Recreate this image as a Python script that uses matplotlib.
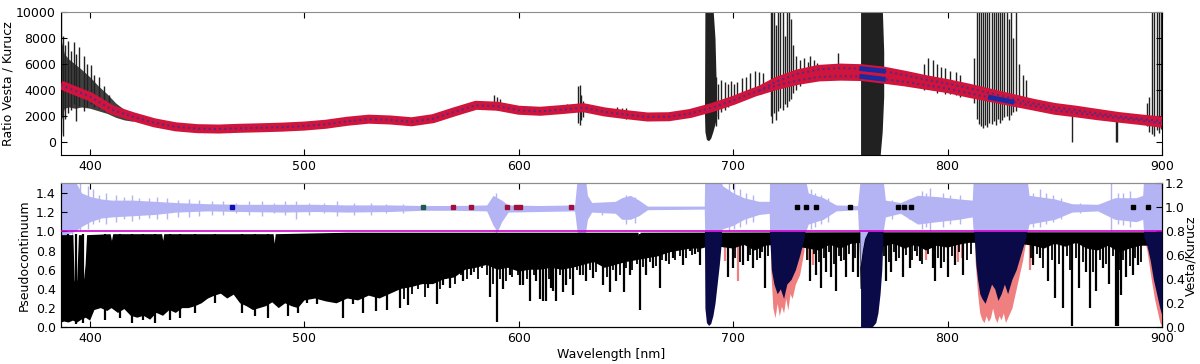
import numpy as np
import matplotlib
matplotlib.use('Agg')
import matplotlib.pyplot as plt

plt.rcParams['font.size'] = 9
plt.rcParams['xtick.direction'] = 'in'
plt.rcParams['ytick.direction'] = 'in'

# ---------------- top panel data (ratio Vesta / Kurucz) ----------------
fit_wl = [386.3, 390, 400, 410, 420, 430, 440, 450, 460, 470, 480, 490, 500, 510, 520,
          530, 540, 550, 560, 570, 580, 590, 600, 610, 620, 630, 640, 650, 660, 670,
          680, 690, 700, 710, 720, 730, 740, 750, 760, 770, 780, 790, 800, 810, 820,
          830, 840, 850, 860, 870, 880, 890, 900]
fit_lo = [4400, 4150, 3500, 2500, 1950, 1480, 1170, 1030, 1000, 1060, 1100, 1150, 1230, 1370, 1600,
          1760, 1700, 1560, 1800, 2330, 2830, 2760, 2450, 2370, 2500, 2650, 2320, 2110, 1930, 1950,
          2200, 2650, 3200, 3850, 4350, 4750, 5020, 5080, 5050, 4850, 4640, 4380, 4120, 3760, 3430,
          3100, 2780, 2450, 2250, 2030, 1840, 1660, 1450]
fit2_wl = [712, 720, 730, 740, 750, 760, 770, 780, 790, 800, 810, 820, 830, 840, 850,
           860, 870, 880, 890, 900]
fit2_hi = [3950, 4650, 5250, 5600, 5700, 5650, 5470, 5150, 4800, 4500, 4150, 3760, 3370, 2980, 2660,
           2450, 2200, 1960, 1780, 1620]

# noisy ratio near the blue end
noise_wl = [386.3, 388, 390, 393, 396, 400, 404, 408, 412, 416, 420]
noise_lo = [1500, 2600, 2700, 2600, 2700, 2600, 2400, 2200, 1900, 1700, 1600]
noise_hi = [8000, 6800, 6400, 6000, 5600, 5000, 4300, 3700, 3000, 2500, 2200]

# single spikes of the ratio (wavelength, low end, high end)
spk_wl = [386.5, 387.3, 388.5, 389.5, 391, 392.5, 393.6, 395, 397, 398.5, 400.5, 402, 404, 406.5, 409,
          588.5, 589.6, 591, 593, 622.5, 627.5, 628.3, 629, 630, 646, 648, 650,
          692, 693, 694.5, 696, 697.5, 699, 700.5, 702, 704, 706, 708, 710, 712, 714,
          717.5, 718.3, 719.2, 720, 721, 722, 723, 724, 725, 726, 727, 728, 729.5, 731, 733, 735,
          736, 737.5, 739, 748.7,
          789, 791, 793, 795, 797, 799, 801, 804, 806,
          812.5, 813.5, 814.5, 815.5, 816.5, 817.5, 818.5, 819.5, 820.5, 821.5, 822.5, 823.5,
          824.5, 825.5, 826.5, 827.5, 828.5, 829.5, 830.5, 832, 833.5, 835, 836.5,
          858.1, 878.4, 879.0,
          893, 894, 895.5, 896.5, 897.5, 898.5, 899.5]
spk_lo = [700, 500, 1800, 2200, 2500, 2900, 1600, 2800, 2400, 2700, 2900, 2700, 2600, 2400, 2200,
          2600, 2500, 2600, 2500, 2300, 1500, 1300, 1700, 1900, 2000, 1900, 1800,
          1200, 1800, 2300, 2500, 2700, 2900, 3100, 3400, 3300, 3400, 3500, 3600, 3800, 4000,
          2000, 1500, 2200, 1700, 2400, 2600, 2500, 2900, 2700, 3200, 3300, 3800, 4000, 4300, 4600, 4800,
          4900, 5000, 5100, 5300,
          4000, 4100, 4000, 3800, 3900, 3700, 3700, 3600, 3500,
          3000, 1800, 1400, 1200, 1100, 1300, 1150, 1500, 1400, 1600, 1300, 1800,
          1500, 1700, 1900, 2000, 1700, 2100, 2300, 2400, 2700, 2900, 3000,
          0, 0, 0,
          1200, 800, 600, 500, 900, 700, 1000]
spk_hi = [10000, 8200, 7500, 7800, 7000, 7700, 6800, 7300, 6600, 6000, 5900, 5200, 5000, 4300, 3600,
          3600, 3500, 3300, 3000, 2900, 4300, 4400, 3600, 3200, 2700, 2600, 2600,
          5000, 4500, 4800, 4600, 4500, 4700, 4500, 4600, 4900, 5000, 5300, 5500, 5400, 5300,
          10000, 10000, 10000, 9000, 10000, 10000, 10000, 8200, 10000, 10000, 9500, 7500, 6600, 6300, 6500, 6200,
          6600, 6300, 6100, 6900,
          6000, 6500, 6300, 6000, 5800, 5700, 5500, 5400, 5200,
          6500, 10000, 10000, 10000, 10000, 10000, 10000, 10000, 10000, 10000, 10000, 10000,
          10000, 10000, 10000, 10000, 9500, 10000, 8000, 10000, 6000, 5200, 4800,
          2400, 1900, 1900,
          3000, 3500, 10000, 10000, 10000, 10000, 10000]

# saturated telluric bands in the ratio
tel1_wl = [686.6, 686.8, 687.5, 688.5, 689.5, 690.5, 691.5, 692.3]
tel1_lo = [2200, 800, 200, 100, 300, 800, 1400, 2000]
tel1_hi = [2200, 10500, 10500, 10500, 10500, 10500, 8000, 3000]
tel2_wl = [759.4, 759.6, 768.5, 769.5, 770.2]
tel2_lo = [-1100, -1100, -1100, 800, 3500]
tel2_hi = [10500, 10500, 10500, 10500, 7000]

# ---------------- bottom panel data ----------------
# solar pseudocontinuum spectrum: upper and lower edge of the dense line forest
top_wl = [386.3, 392.2, 392.8, 393.4, 394.0, 394.8, 396.2, 396.7, 397.2, 397.9, 398.6,
          409.6, 410.2, 410.8, 433.6, 434.1, 434.6, 485.6, 486.1, 486.6, 520,
          655.8, 656.3, 656.8, 759.3, 759.4, 760.5, 761.5, 763.0, 900]
top_hi = [0.96, 0.96, 0.5, 0.38, 0.5, 0.96, 0.96, 0.55, 0.5, 0.65, 0.96,
          0.97, 0.9, 0.97, 0.97, 0.9, 0.97, 0.97, 0.87, 0.97, 0.985,
          0.985, 0.91, 0.985, 0.99, 0.62, 0.8, 0.92, 0.99, 0.99]
blk_wl = [386.3, 388, 390, 392, 394, 396, 398, 400, 402, 405, 408, 410, 413, 416, 419, 422,
          425, 428, 431, 434, 437, 440, 443, 446, 449, 452, 455, 458, 461, 464, 467, 470,
          473, 476, 479, 482, 485, 488, 491, 494, 497, 500, 505, 510, 515, 520, 525, 530,
          535, 540, 545, 550, 555, 560, 565, 570, 575, 580, 585, 590, 595, 600, 605, 610,
          615, 620, 625, 630, 635, 640, 645, 650, 655, 660, 665, 670, 675, 680, 685, 690,
          700, 705, 710, 715, 720, 730, 740, 745, 750, 755, 759, 759.4, 763, 764, 770, 775,
          780, 785, 790, 795, 800, 805, 810, 820, 830, 840, 845, 850, 855, 860, 865, 870,
          875, 880, 885, 890, 900]
blk_lo = [0.05, 0.06, 0.05, 0.07, 0.05, 0.08, 0.1, 0.07, 0.18, 0.2, 0.17, 0.2, 0.15, 0.19, 0.12, 0.1,
          0.12, 0.08, 0.15, 0.12, 0.18, 0.15, 0.2, 0.2, 0.22, 0.25, 0.3, 0.33, 0.35, 0.3, 0.34, 0.25,
          0.22, 0.18, 0.2, 0.22, 0.26, 0.2, 0.25, 0.22, 0.2, 0.28, 0.3, 0.27, 0.25, 0.3, 0.28, 0.33,
          0.3, 0.35, 0.4, 0.42, 0.45, 0.45, 0.5, 0.52, 0.6, 0.62, 0.65, 0.6, 0.62, 0.58, 0.6, 0.6,
          0.62, 0.6, 0.62, 0.65, 0.68, 0.62, 0.65, 0.68, 0.7, 0.72, 0.74, 0.78, 0.8, 0.82, 0.82, 0.85,
          0.82, 0.86, 0.8, 0.85, 0.86, 0.84, 0.8, 0.86, 0.82, 0.87, 0.88, 0.4, 0.4, 0.88, 0.84, 0.87,
          0.82, 0.86, 0.8, 0.85, 0.83, 0.86, 0.88, 0.88, 0.88, 0.85, 0.82, 0.87, 0.84, 0.88, 0.82, 0.8,
          0.85, 0.78, 0.82, 0.85, 0.85]

# individual deep absorption lines (wavelength, line core)
line_wl = [389.9, 393.4, 396.8, 407.0, 414.0, 419.4, 424.9, 430.3, 437.3, 442.0, 449.0, 458.3,
           470.7, 477.0, 483.2, 492.5, 497.1, 501.0, 505.7, 518.1, 522.8, 527.4, 533.6, 538.3,
           544.5, 548.5, 557.7, 561.6, 564.7, 567.8, 571.7, 574.0, 577.9, 586.5, 589.9, 592.7,
           595.8, 598.1, 600.5, 602.0, 605.1, 608.2, 609.8, 611.3, 612.9, 615.2, 616.0, 617.5,
           620.6, 622.2, 625.3, 628.4, 631.5, 634.6, 639.3, 642.4, 645.5, 648.9, 651.7, 656.5,
           659.5, 662.6, 665.7, 668.8, 671.9, 676.6, 679.7, 682.0, 684.4,
           697.6, 699.9, 704.6, 706.9, 709.2, 712.3, 714.7, 735.6, 738.8, 741.1, 743.4, 745.7,
           748.1, 750.4, 752.7, 755.8, 758.2, 771.4, 773.7, 776.0, 779.2, 782.3, 784.6, 786.9,
           793.1, 793.9, 797.0, 800.1, 803.3, 807.1, 839.8, 842.9, 846.8, 849.9, 853.8, 858.1,
           861.5, 864.6, 866.2, 869.3, 872.4, 875.5, 878.6, 879.4, 881.0, 883.3, 886.4, 888.7]
line_lo = [0.06, 0.03, 0.05, 0.08, 0.1, 0.05, 0.08, 0.05, 0.08, 0.1, 0.15, 0.25,
           0.15, 0.12, 0.1, 0.12, 0.15, 0.25, 0.24, 0.1, 0.24, 0.15, 0.17, 0.18,
           0.2, 0.23, 0.41, 0.24, 0.44, 0.41, 0.58, 0.48, 0.55, 0.32, 0.06, 0.4,
           0.55, 0.6, 0.44, 0.44, 0.27, 0.48, 0.3, 0.27, 0.27, 0.41, 0.38, 0.27,
           0.37, 0.44, 0.34, 0.55, 0.48, 0.51, 0.44, 0.37, 0.48, 0.37, 0.55, 0.18,
           0.55, 0.62, 0.41, 0.69, 0.72, 0.65, 0.79, 0.76, 0.65,
           0.52, 0.62, 0.65, 0.69, 0.62, 0.72, 0.41, 0.48, 0.55, 0.41, 0.58, 0.52,
           0.38, 0.69, 0.52, 0.58, 0.52, 0.48, 0.58, 0.69, 0.52, 0.62, 0.79, 0.69,
           0.62, 0.48, 0.62, 0.52, 0.65, 0.55, 0.65, 0.72, 0.48, 0.31, 0.2, 0.01,
           0.41, 0.58, 0.2, 0.38, 0.62, 0.45, 0.01, 0.01, 0.34, 0.52, 0.55, 0.65]

# weaker lines that make the comb between the deep ones
weak_wl = [546.5, 550, 553, 556, 559.5, 563, 566, 570, 573, 576, 579, 581, 583, 585, 588, 591,
           594, 597, 599.5, 604, 607, 614, 619, 624, 627, 630, 633, 636, 638, 641, 644, 647,
           650, 653, 655, 658, 661, 664, 667, 670, 673, 675, 678, 681, 683.5,
           701, 703, 708, 711, 713.5, 716, 734.5, 737.5, 740, 742.3, 744.5, 747, 749.3, 751.5,
           754, 757, 770.5, 772.5, 775, 777.5, 780.5, 783.5, 785.8, 788, 791, 795.5, 798.5,
           802, 805.5, 809, 811, 838.8, 841.5, 844.5, 848.5, 852, 855.5, 857, 860, 863, 868,
           871, 874, 877, 880, 882, 885, 887.5, 890]
weak_lo = [0.3, 0.35, 0.4, 0.32, 0.45, 0.4, 0.5, 0.45, 0.55, 0.5, 0.58, 0.5, 0.62, 0.55, 0.45, 0.5,
           0.48, 0.52, 0.55, 0.5, 0.55, 0.5, 0.55, 0.5, 0.6, 0.55, 0.6, 0.58, 0.65, 0.52, 0.6, 0.55,
           0.62, 0.6, 0.66, 0.63, 0.68, 0.64, 0.7, 0.66, 0.7, 0.74, 0.72, 0.75, 0.78,
           0.72, 0.68, 0.75, 0.7, 0.78, 0.74, 0.7, 0.76, 0.68, 0.72, 0.78, 0.66, 0.74, 0.7,
           0.76, 0.72, 0.74, 0.68, 0.78, 0.72, 0.75, 0.7, 0.74, 0.66, 0.76, 0.72, 0.68,
           0.74, 0.78, 0.7, 0.76, 0.72, 0.76, 0.62, 0.7, 0.66, 0.74, 0.6, 0.72, 0.68, 0.58,
           0.7, 0.66, 0.74, 0.6, 0.7, 0.64, 0.72, 0.68]

# telluric-affected spectrum (salmon) and telluric bands (navy)
sal_bands = [
    ([717.5, 718.5, 719.5, 720.5, 721.5, 722.5, 723.5, 724.5, 725.5, 726.5, 727.5, 729, 731, 733],
     [0.6, 0.2, 0.1, 0.25, 0.12, 0.22, 0.15, 0.3, 0.18, 0.35, 0.3, 0.45, 0.55, 0.8]),
    ([812.8, 814, 815, 816, 817, 818, 819, 820, 821, 822, 823, 824, 825, 826, 827, 828, 829,
      830, 831, 833, 835, 836.5],
     [0.7, 0.35, 0.15, 0.08, 0.05, 0.12, 0.06, 0.1, 0.2, 0.1, 0.05, 0.12, 0.08, 0.15, 0.05, 0.1,
      0.15, 0.2, 0.3, 0.5, 0.7, 0.9]),
    ([891.5, 893, 895, 896.5, 898, 899, 900],
     [0.95, 0.8, 0.5, 0.3, 0.15, 0.05, 0.02]),
]
sal_line_wl = [696.0, 702.2, 735.5, 737.0, 790.0, 803.3, 805.0, 806.5, 838.5, 840.0]
sal_line_lo = [0.69, 0.48, 0.7, 0.65, 0.7, 0.72, 0.68, 0.72, 0.6, 0.68]

navy_bands = [
    ([686.6, 686.8, 687.5, 688.5, 689.5, 690.5, 691.5, 692.5, 693.5, 694.5],
     [0.9, 0.2, 0.05, 0.02, 0.04, 0.12, 0.25, 0.45, 0.65, 0.9],
     [1.0, 1.0, 1.0, 1.0, 1.0, 1.0, 1.0, 1.0, 1.0, 1.0]),
    ([717.0, 717.8, 719, 720.5, 722, 723.5, 725, 727, 729, 731, 733.3],
     [0.95, 0.6, 0.45, 0.35, 0.4, 0.3, 0.45, 0.5, 0.6, 0.75, 0.95],
     [1.0, 1.0, 1.0, 1.0, 1.0, 1.0, 1.0, 1.0, 1.0, 1.0, 1.0]),
    ([759.4, 759.5, 760.5, 761.5, 763, 765, 766.5, 767.5, 768.5, 769.3, 769.8],
     [0.0, 0.0, 0.0, 0.0, 0.0, 0.01, 0.05, 0.15, 0.35, 0.6, 0.9],
     [0.62, 0.65, 0.8, 0.92, 1.0, 1.0, 1.0, 1.0, 1.0, 1.0, 1.0]),
    ([812.4, 813.2, 814, 815, 816, 817.5, 819, 820.5, 822, 823.5, 825, 826.5, 828, 830, 832,
      834, 836.7],
     [0.95, 0.65, 0.5, 0.35, 0.3, 0.25, 0.35, 0.45, 0.4, 0.28, 0.35, 0.45, 0.35, 0.5, 0.6,
      0.75, 0.95],
     [1.0] * 17),
    ([891.5, 893, 894.5, 896, 897.5, 899, 900],
     [0.95, 0.85, 0.7, 0.5, 0.35, 0.2, 0.12],
     [1.0, 1.0, 1.0, 1.0, 1.0, 1.0, 1.0]),
]

# Vesta / Kurucz ratio on the right axis (envelope of the noise)
blue_wl = [386.3, 390, 393, 396, 400, 405, 410, 420, 430, 440, 455, 470, 490, 505, 520, 540,
           555, 570, 585, 588, 590, 592, 595, 610, 626, 627.3, 631, 632, 634, 645, 648, 652,
           656, 660, 686.5, 686.7, 693.8, 695, 700, 705, 712, 716.8, 717, 733.5, 735, 742,
           748, 758, 759.3, 769.8, 771, 778, 786, 795, 805, 811.5, 812, 837, 838, 850, 858,
           870, 878, 888, 891, 891.5, 900]
blue_lo = [0.70, 0.78, 0.80, 0.84, 0.88, 0.91, 0.92, 0.93, 0.94, 0.96, 0.97, 0.965, 0.96,
           0.965, 0.96, 0.965, 0.975, 0.975, 0.97, 0.85, 0.80, 0.88, 0.96, 0.965, 0.97, 0.78,
           0.78, 0.9, 0.96, 0.95, 0.9, 0.9, 0.93, 0.98, 0.985, 0.78, 0.78, 0.82, 0.85, 0.9,
           0.94, 0.95, 0.78, 0.78, 0.86, 0.9, 0.97, 0.98, 0.45, 0.78, 0.92, 0.95, 0.86, 0.88,
           0.9, 0.92, 0.78, 0.78, 0.86, 0.9, 0.96, 0.97, 0.9, 0.88, 0.9, 0.78, 0.78]
blue_hi = [1.30, 1.28, 1.22, 1.12, 1.09, 1.07, 1.06, 1.06, 1.05, 1.04, 1.03, 1.025, 1.025,
           1.025, 1.02, 1.02, 1.015, 1.015, 1.02, 1.10, 1.08, 1.06, 1.02, 1.015, 1.02, 1.25,
           1.25, 1.1, 1.04, 1.05, 1.08, 1.1, 1.06, 1.01, 1.01, 1.25, 1.25, 1.18, 1.12, 1.08,
           1.05, 1.05, 1.25, 1.25, 1.12, 1.08, 1.02, 1.015, 1.25, 1.25, 1.06, 1.04, 1.1, 1.09,
           1.07, 1.06, 1.25, 1.25, 1.1, 1.07, 1.03, 1.025, 1.08, 1.08, 1.1, 1.25, 1.25]
bspk_wl = [388.2, 391.5, 395.2, 399.0, 401.5, 404.0, 407.5, 412.0, 416.0, 419.5, 423.0, 427.5,
           431.0, 436.0, 441.0, 446.0, 451.0, 457.0, 462.0, 468.0, 474.0, 480.0, 486.0, 491.0,
           496.0, 502.0, 509.0, 515.0, 523.0, 531.0, 538.0, 546.0, 589.2, 639.0, 650.0, 654.0,
           698.0, 700.5, 703.0, 706.0, 709.0, 736.5, 738.0, 741.0, 744.0, 774.0, 782.0, 788.0,
           790.0, 792.0, 798.0, 801.0, 806.0, 840.0, 843.0, 846.0, 849.0, 853.0, 862.0, 876.0,
           879.5, 882.0, 885.0]
bspk_lo = [0.72, 0.75, 0.80, 0.82, 0.86, 0.88, 0.86, 0.88, 0.9, 0.89, 0.9, 0.91, 0.9, 0.9,
           0.92, 0.92, 0.93, 0.94, 0.94, 0.95, 0.94, 0.93, 0.95, 0.94, 0.9, 0.94, 0.95, 0.93,
           0.94, 0.94, 0.95, 0.95, 0.76, 0.94, 0.86, 0.87, 0.8, 0.82, 0.84, 0.86, 0.88, 0.82,
           0.84, 0.86, 0.88, 0.9, 0.9, 0.82, 0.84, 0.8, 0.84, 0.86, 0.86, 0.84, 0.84, 0.86,
           0.88, 0.9, 0.95, 0.8, 0.86, 0.85, 0.84]
bspk_hi = [1.3, 1.3, 1.3, 1.18, 1.15, 1.1, 1.12, 1.1, 1.09, 1.1, 1.08, 1.08, 1.09, 1.08,
           1.06, 1.07, 1.06, 1.05, 1.05, 1.04, 1.05, 1.05, 1.04, 1.05, 1.05, 1.04, 1.04, 1.05,
           1.04, 1.04, 1.03, 1.03, 1.12, 1.03, 1.1, 1.09, 1.2, 1.22, 1.15, 1.12, 1.1, 1.15,
           1.12, 1.1, 1.08, 1.06, 1.07, 1.14, 1.12, 1.16, 1.12, 1.1, 1.1, 1.12, 1.15, 1.12,
           1.1, 1.08, 1.04, 1.2, 1.12, 1.12, 1.14]

# markers of the selected continuum points
sq_wl = [466.1, 555.1, 569.4, 577.5, 594.3, 598.6, 600.6, 624.1, 729.7, 734.1, 738.4, 754.3,
         776.8, 779.6, 783.0, 886.6, 893.4]
sq_val = [1.0] * 17
sq_col = ['#1010b0', '#1f5a4a', '#a0103a', '#a0103a', '#a0103a', '#a0103a', '#a0103a', '#a0103a',
          'k', 'k', 'k', 'k', 'k', 'k', 'k', 'k', 'k']

xmin, xmax = 386.3, 900

fig = plt.figure(figsize=(12, 3.64), dpi=100)
ax1 = fig.add_axes([0.0506, 0.5742, 0.9177, 0.392])
ax2 = fig.add_axes([0.0506, 0.1008, 0.9177, 0.3956])
ax3 = ax2.twinx()
ax3.set_zorder(ax2.get_zorder() - 1)
ax2.patch.set_visible(False)

# --- top panel ---
ax1.fill_between(noise_wl, noise_lo, noise_hi, color='0.25', lw=0, zorder=1)
ax1.vlines(spk_wl, spk_lo, spk_hi, color='0.13', lw=1.0, zorder=1)
ax1.fill_between(tel1_wl, tel1_lo, tel1_hi, color='0.13', lw=0, zorder=1)
ax1.fill_between(tel2_wl, tel2_lo, tel2_hi, color='0.13', lw=0, zorder=1)
for wl, val in [(fit_wl, fit_lo), (fit2_wl, fit2_hi)]:
    ax1.plot(wl, val, color='#d0143c', lw=6.5, solid_capstyle='butt', zorder=3)
    ax1.plot(wl, val, color='#5a2a80', lw=1.5, ls=(0, (1, 1.5)), zorder=4)
    w = np.array(wl)
    v = np.array(val)
    m = (w >= 760) & (w <= 770)
    ax1.plot(w[m], v[m], color='#1a2aa0', lw=3.5, zorder=5)
w = np.array(fit_wl)
m = (w >= 820) & (w <= 830)
ax1.plot(w[m], np.array(fit_lo)[m], color='#1a2aa0', lw=3.5, zorder=5)

ax1.set_xlim(xmin, xmax)
ax1.set_ylim(-1000, 10000)
ax1.set_xticks([400, 500, 600, 700, 800, 900])
ax1.set_yticks([0, 2000, 4000, 6000, 8000, 10000])
ax1.set_ylabel('Ratio Vesta / Kurucz', labelpad=1)
ax1.tick_params(top=True, right=True, length=4)

# --- bottom panel, right axis (behind) ---
ax3.fill_between(blue_wl, blue_lo, blue_hi, color='#b4b4f4', lw=0)
ax3.vlines(bspk_wl, bspk_lo, bspk_hi, color='#b4b4f4', lw=1.0)
for x, y, c in zip(sq_wl, sq_val, sq_col):
    ax3.plot(x, y, 's', ms=3.5, color=c, mec=c, zorder=5)
ax3.set_ylim(0, 1.2)
ax3.set_yticks([0.0, 0.2, 0.4, 0.6, 0.8, 1.0, 1.2])
ax3.set_ylabel('Vesta/Kurucz', labelpad=0)
ax3.tick_params(right=True, length=4, pad=2)

# --- bottom panel, left axis (front) ---
for wl, lo in sal_bands:
    ax2.fill_between(wl, lo, 0.98, color='#f08080', lw=0, zorder=1)
ax2.vlines(sal_line_wl, sal_line_lo, 0.98, color='#f08080', lw=1.6, zorder=1)
poly_x = np.concatenate([top_wl, blk_wl[::-1]])
poly_y = np.concatenate([top_hi, blk_lo[::-1]])
ax2.fill(poly_x, poly_y, color='k', lw=0, zorder=2)
ax2.vlines(line_wl, line_lo, 0.97, color='k', lw=1.6, zorder=2)
ax2.vlines(weak_wl, weak_lo, 0.97, color='k', lw=1.3, zorder=2)
for wl, lo, hi in navy_bands:
    ax2.fill_between(wl, lo, hi, color='#0a0a48', lw=0, zorder=3)
ax2.axhline(1.0, color='#cc00cc', lw=1.2, zorder=4)

ax2.set_xlim(xmin, xmax)
ax2.set_ylim(0, 1.5)
ax2.set_xticks([400, 500, 600, 700, 800, 900])
ax2.set_yticks([0.0, 0.2, 0.4, 0.6, 0.8, 1.0, 1.2, 1.4])
ax2.set_ylabel('Pseudocontinuum')
ax2.set_xlabel('Wavelength [nm]', labelpad=2)
ax2.tick_params(top=True, right=False, length=4)

for ax in [ax1, ax2, ax3]:
    ax.spines['top'].set_color('0.55')

fig.savefig('out.png', dpi=100)
